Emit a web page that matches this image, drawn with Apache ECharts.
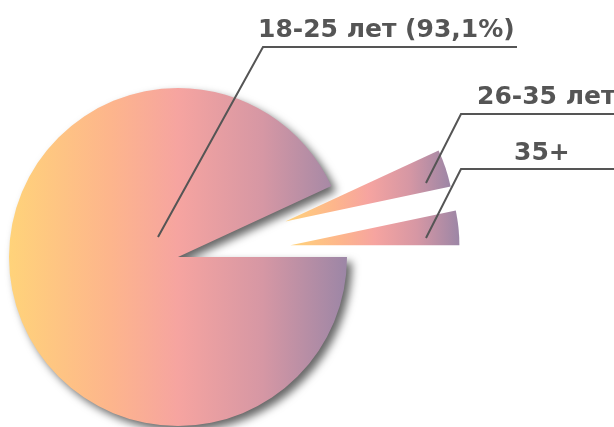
<!DOCTYPE html>
<html>
<head>
<meta charset="utf-8">
<script src="https://cdn.jsdelivr.net/npm/echarts@6/dist/echarts.min.js"></script>
<style>html,body{margin:0;padding:0;background:#fff}#c{width:614px;height:427px}</style>
</head>
<body>
<div id="c"></div>
<script>
// Data
const categories = ['18-25 лет', '26-35 лет', '35+'];
const values = [93.1, 3.6, 3.3];
const exploded = [false, true, true];
const showPercent = [true, false, false];

// Label layout (pixels): text anchor (left, bottom) and leader line points
const labelLayoutCfg = [
  { x: 258, y: 43, line: [[158, 237], [263, 47], [517, 47]] },
  { x: 477, y: 110, line: [[426, 183], [461, 114], [620, 114]] },
  { x: 514, y: 166, line: [[426, 238], [461, 169], [620, 169]] }
];

const fill = {
  type: 'linear', x: 0, y: 0, x2: 1, y2: 0,
  colorStops: [
    { offset: 0, color: '#FFD37A' },
    { offset: 0.3, color: '#FDB58C' },
    { offset: 0.5, color: '#F6A4A0' },
    { offset: 0.75, color: '#D697A4' },
    { offset: 1, color: '#9C86A6' }
  ]
};

const common = {
  type: 'pie',
  center: [178, 257],
  radius: 169,
  startAngle: 0,
  clockwise: true,
  avoidLabelOverlap: false,
  emphasis: { disabled: true }
};

const chart = echarts.init(document.getElementById('c'), null, { renderer: 'canvas' });

const pieData = categories.map((name, i) => ({
  name: name,
  value: values[i],
  selected: exploded[i],
  itemStyle: i === 0 ? {
    color: fill, shadowBlur: 9, shadowColor: 'rgba(0,0,0,0.6)', shadowOffsetX: 5, shadowOffsetY: 5
  } : { color: fill }
}));

const labelData = categories.map((name, i) => ({ name: name, value: values[i] }));

chart.setOption({
  animation: false,
  series: [
    Object.assign({}, common, {
      z: 2,
      selectedMode: 'multiple',
      selectedOffset: 113,
      select: { itemStyle: {} },
      label: { show: false },
      labelLine: { show: false },
      data: pieData
    }),
    Object.assign({}, common, {
      z: 3,
      silent: true,
      itemStyle: { color: 'rgba(0,0,0,0)' },
      data: labelData,
      label: {
        show: true,
        color: '#555555',
        fontFamily: 'DejaVu Sans',
        fontWeight: 'bold',
        fontSize: 25,
        lineHeight: 25,
        formatter: function (p) {
          return showPercent[p.dataIndex]
            ? p.name + ' (' + String(p.value).replace('.', ',') + '%)'
            : p.name;
        }
      },
      labelLine: {
        show: true,
        lineStyle: { color: '#555555', width: 2 }
      },
      labelLayout: function (params) {
        const L = labelLayoutCfg[params.dataIndex];
        return {
          x: L.x, y: L.y, align: 'left', verticalAlign: 'bottom',
          labelLinePoints: L.line
        };
      }
    })
  ]
});
</script>
</body>
</html>
